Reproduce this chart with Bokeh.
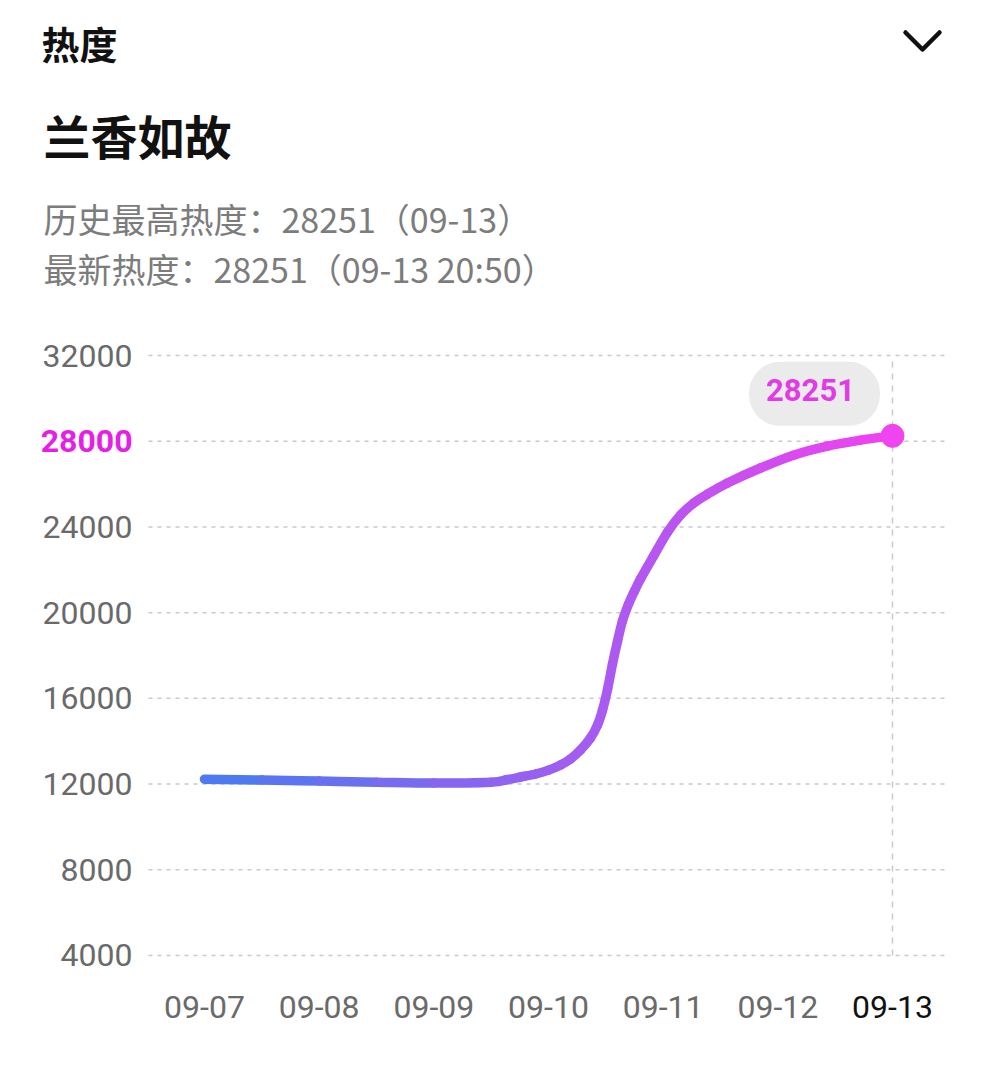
from bokeh.plotting import figure
from bokeh.models import Label, Range1d, ColumnDataSource
from bokeh.core.properties import value
from bokeh.embed import file_html
from bokeh.resources import INLINE

# ---------------- data ----------------
dates = ["09-07", "09-08", "09-09", "09-10", "09-11", "09-12", "09-13"]
y_ticks = [4000, 8000, 12000, 16000, 20000, 24000, 28000, 32000]
highlight_tick = 28000

# time in days since 09-07
t_days = [0.0, 0.5, 1.0, 1.5, 2.0, 2.5, 2.625, 2.756, 2.887, 3.0, 3.105, 3.192,
          3.279, 3.366, 3.427, 3.471, 3.515, 3.558, 3.602, 3.645, 3.698, 3.75,
          3.802, 3.916, 4.038, 4.151, 4.265, 4.387, 4.561, 4.849, 5.137, 5.433,
          5.721, 6.0]
heat = [12230, 12190, 12140, 12090, 12050, 12090, 12190, 12330, 12470, 12650,
        12890, 13170, 13590, 14150, 14750, 15450, 16430, 17600, 18670, 19610,
        20400, 21010, 21570, 22640, 23760, 24550, 25110, 25530, 26050, 26750,
        27350, 27770, 28050, 28251]
peak_value = 28251

header_title = "热度"
topic_title = "兰香如故"
info_lines = ["历史最高热度：28251（09-13）", "最新热度：28251（09-13 20:50）"]

# ---------------- layout / styles ----------------
W, H = 992, 1080
FL, FR, FT, FB = 148, 945, 348, 965          # plotting area in page pixels
XS, XE = -0.4884, 6.4622                     # data range across plotting area
YS, YE = 3533.3, 32326.7
CJK = value("Noto Sans CJK SC")
NUM = value("Roboto")
BG = "#ffffff"
GRID = "#c9c9c9"
TICK_GRAY = "#6a6a6a"
MAGENTA = "#e51fe5"
C0 = (70, 124, 240)
C1 = (240, 66, 240)


def dx(px):
    return XS + (px - FL) / (FR - FL) * (XE - XS)


def dy(py):
    return YE - (py - FT) / (FB - FT) * (YE - YS)


p = figure(width=W, height=H, x_range=Range1d(dx(0), dx(W)), y_range=Range1d(dy(H), dy(0)),
           x_axis_type=None, y_axis_type=None,
           output_backend="svg", toolbar_location=None, min_border=0,
           background_fill_color=BG, border_fill_color=BG, outline_line_color=None)
p.title.visible = False

# ---------------- header ----------------
p.text(x=[dx(41)], y=[dy(42)], text=[header_title], text_font=CJK, text_font_style="bold",
       text_font_size="38px", text_baseline="middle", text_align="left",
       text_color="#111111")
p.line(x=[dx(905), dx(922), dx(939)], y=[dy(32), dy(49), dy(32)], line_width=4.5,
       line_color="#111111", line_cap="round", line_join="round")
p.text(x=[dx(43)], y=[dy(134)], text=[topic_title], text_font=CJK, text_font_style="bold",
       text_font_size="47px", text_baseline="middle", text_align="left",
       text_color="#111111")
p.text(x=[dx(43)] * 2, y=[dy(218), dy(268)], text=info_lines, text_font=CJK,
       text_font_size="34px", text_baseline="middle", text_align="left",
       text_color="#7c7c7c")

# ---------------- grid + tick labels ----------------
n = len(y_ticks)
p.segment(x0=[XS] * n, y0=y_ticks, x1=[XE] * n, y1=y_ticks, line_color=GRID,
          line_width=1.5, line_dash="4 5")
norm_ticks = [t for t in y_ticks if t != highlight_tick]
p.text(x=[dx(132)] * len(norm_ticks), y=norm_ticks, text=[str(t) for t in norm_ticks],
       text_font=NUM, text_font_size="32px", text_color=TICK_GRAY,
       text_align="right", text_baseline="middle")
p.text(x=[dx(132)], y=[highlight_tick], text=[str(highlight_tick)], text_font=NUM,
       text_font_size="32px", text_font_style="bold", text_color=MAGENTA,
       text_align="right", text_baseline="middle")
xpos = list(range(len(dates)))
p.text(x=xpos[:-1], y=[dy(1006)] * (len(dates) - 1), text=dates[:-1], text_font=NUM,
       text_font_size="32px", text_color=TICK_GRAY, text_align="center",
       text_baseline="middle")
p.text(x=xpos[-1:], y=[dy(1006)], text=dates[-1:], text_font=NUM,
       text_font_size="32px", text_color="#111111", text_align="center",
       text_baseline="middle")

# vertical dashed marker at latest date
p.segment(x0=[t_days[-1]], y0=[y_ticks[0]], x1=[t_days[-1]], y1=[y_ticks[-1]],
          line_color=GRID, line_width=1.5, line_dash="6 6")

# ---------------- smooth gradient curve (Catmull-Rom -> cubic Bezier) ----------------
m = len(t_days)
seg = dict(x0=[], y0=[], x1=[], y1=[], cx0=[], cy0=[], cx1=[], cy1=[], c=[])
tmin, tmax = t_days[0], t_days[-1]
for i in range(m - 1):
    a = max(i - 1, 0)
    b = min(i + 2, m - 1)
    seg["x0"].append(t_days[i]); seg["y0"].append(heat[i])
    seg["x1"].append(t_days[i + 1]); seg["y1"].append(heat[i + 1])
    seg["cx0"].append(t_days[i] + (t_days[i + 1] - t_days[a]) / 6)
    seg["cy0"].append(heat[i] + (heat[i + 1] - heat[a]) / 6)
    seg["cx1"].append(t_days[i + 1] - (t_days[b] - t_days[i]) / 6)
    seg["cy1"].append(heat[i + 1] - (heat[b] - heat[i]) / 6)
    f = ((t_days[i] + t_days[i + 1]) / 2 - tmin) / (tmax - tmin)
    col = tuple(int(round(C0[k] + (C1[k] - C0[k]) * f)) for k in range(3))
    seg["c"].append("#%02x%02x%02x" % col)
src = ColumnDataSource(seg)
p.bezier(x0="x0", y0="y0", x1="x1", y1="y1", cx0="cx0", cy0="cy0", cx1="cx1",
         cy1="cy1", line_color="c", line_width=9.5, line_cap="round", source=src)

# end point
p.scatter(x=[t_days[-1]], y=[heat[-1]], size=23, fill_color="#f044f0",
          line_color="#f044f0")

# value bubble
p.add_layout(Label(x=t_days[-1], y=heat[-1], x_offset=-78, y_offset=42,
                   text=str(peak_value), text_align="center", text_baseline="middle",
                   text_font="Roboto", text_font_style="bold", text_font_size="31px",
                   text_color="#e23be6", background_fill_color="#ebebeb",
                   border_radius=31, padding=(17, 25, 17, 25)))

open("out.html", "w").write(file_html(p, INLINE))
